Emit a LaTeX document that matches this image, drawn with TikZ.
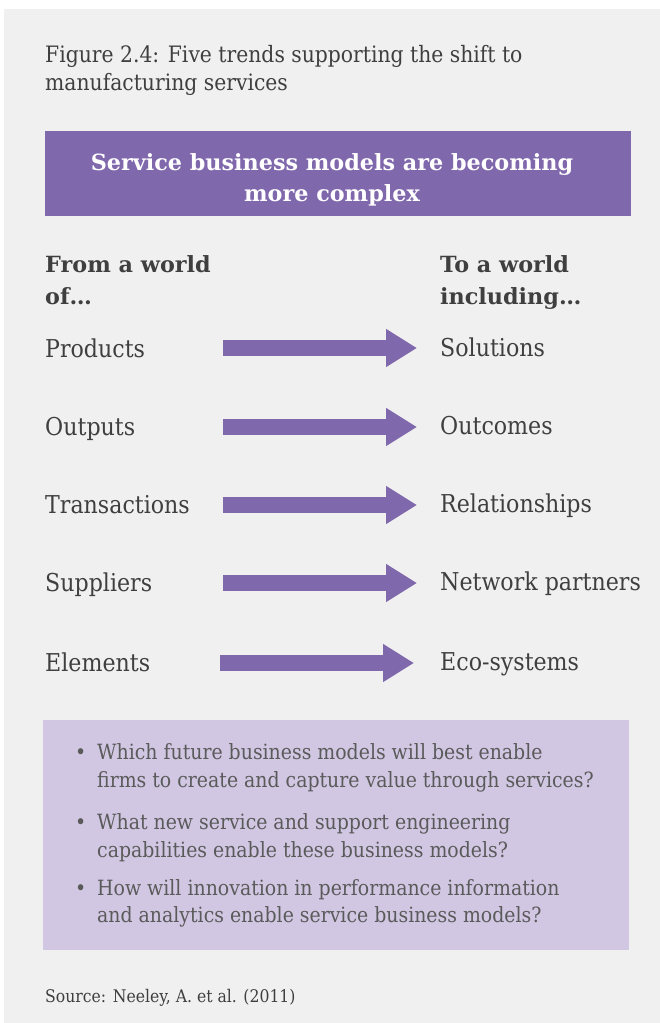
\documentclass[tikz,border=0pt]{standalone}
\usepackage{fontspec}
\setmainfont{DejaVu Serif Condensed}[BoldFont={DejaVu Serif Bold}]
\usetikzlibrary{arrows.meta}
\definecolor{panelgray}{HTML}{F0F0F0}
\definecolor{headpurple}{HTML}{8068AC}
\definecolor{boxlilac}{HTML}{D1C7E3}
\definecolor{textgray}{HTML}{3F3F3F}
\definecolor{bulletgray}{HTML}{5A5A5A}
\newcommand{\bodysize}{\fontsize{24.6}{28}\selectfont}
\newcommand{\boldsize}{\fontsize{22.3}{26}\selectfont\bfseries}

\begin{document}
\begin{tikzpicture}[x=1pt,y=1pt,
    txt/.style={anchor=base west, inner sep=0pt, text=textgray, font=\bodysize},
    headtxt/.style={anchor=base, inner sep=0pt, text=white, font=\boldsize},
    coltxt/.style={txt, font=\boldsize},
    qtxt/.style={txt, text=bulletgray, font=\fontsize{21}{25}\selectfont},
    trend/.style={headpurple, line width=16pt, -{Triangle[width=36pt,length=31pt]}}]

        \useasboundingbox (0,0) rectangle (660,-1023);
        \fill[panelgray] (4,-9) rectangle (660,-1023);

        % title
        \node (fig1) at (45,-62) [txt, font=\fontsize{22.6}{26}\selectfont] {Figure 2.4: Five trends supporting the shift to};
        \node (fig2) at (45,-90) [txt, font=\fontsize{22.6}{26}\selectfont] {manufacturing services};

        \fill[headpurple] (45,-131) rectangle (631,-216);
        \node (head1) at (332,-170) [headtxt] {Service business models are becoming};
        \node (head2) at (332,-201) [headtxt] {more complex};

        \node (from1) at (45,-272) [coltxt] {From a world};
        \node (from2) at (45,-304) [coltxt] {of\dots};
        \node (to1) at (440,-272) [coltxt] {To a world};
        \node (to2) at (440,-304) [coltxt] {including\dots};

        \node (prod) at (45,-357) [txt] {Products};
        \node (outp) at (45,-435) [txt] {Outputs};
        \node (trans) at (45,-513) [txt] {Transactions};
        \node (supp) at (45,-591) [txt] {Suppliers};
        \node (elem) at (45,-671) [txt] {Elements};

        \node (sol) at (440,-356) [txt] {Solutions};
        \node (outc) at (440,-434) [txt] {Outcomes};
        \node (rel) at (440,-512) [txt] {Relationships};
        \node (netw) at (440,-590) [txt] {Network partners};
        \node (eco) at (440,-670) [txt] {Eco-systems};

        \coordinate (a1) at (223,-348);  \coordinate (b1) at (417,-348);
        \coordinate (a2) at (223,-427);  \coordinate (b2) at (417,-427);
        \coordinate (a3) at (223,-505);  \coordinate (b3) at (417,-505);
        \coordinate (a4) at (223,-583);  \coordinate (b4) at (417,-583);
        \coordinate (a5) at (220,-663);  \coordinate (b5) at (414,-663);
        \draw[trend] (a1) -- (b1);
        \draw[trend] (a2) -- (b2);
        \draw[trend] (a3) -- (b3);
        \draw[trend] (a4) -- (b4);
        \draw[trend] (a5) -- (b5);

        % questions
        \fill[boxlilac] (43,-720) rectangle (629,-950);
        \node (dot1) at (75,-759) [qtxt] {\textbullet};
        \node (q1a) at (97,-759) [qtxt] {Which future business models will best enable};
        \node (q1b) at (97,-787) [qtxt] {firms to create and capture value through services?};
        \node (dot2) at (75,-829) [qtxt] {\textbullet};
        \node (q2a) at (97,-829) [qtxt] {What new service and support engineering};
        \node (q2b) at (97,-857) [qtxt] {capabilities enable these business models?};
        \node (dot3) at (75,-895) [qtxt] {\textbullet};
        \node (q3a) at (97,-895) [qtxt] {How will innovation in performance information};
        \node (q3b) at (97,-922) [qtxt] {and analytics enable service business models?};

        \node (src) at (45,-1002) [txt, font=\fontsize{17.4}{20}\selectfont] {Source: Neeley, A. et al. (2011)};
\end{tikzpicture}
\end{document}
